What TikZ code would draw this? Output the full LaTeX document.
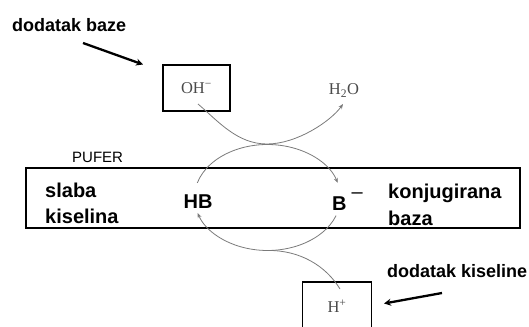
\documentclass[tikz,border=0pt]{standalone}
\usepackage{fontspec}
\setmainfont{Liberation Sans}
\newfontfamily\chemfont{Liberation Serif}
\usetikzlibrary{arrows.meta}
\definecolor{arcgray}{HTML}{7A7A7A}
\definecolor{chemgray}{HTML}{4A4A4A}
\tikzset{
  lbl/.style={font=\fontsize{20}{24}\selectfont\bfseries, inner sep=0pt, anchor=base west},
  addlbl/.style={font=\fontsize{18}{22}\selectfont\bfseries, inner sep=0pt, anchor=base west},
  chemtext/.style={font=\chemfont\fontsize{16.5}{19}\selectfont, text=chemgray, inner sep=0pt},
  chembox/.style={chemtext, draw, line width=1.3pt},
  reaction/.style={draw=arcgray, line width=0.8pt},
  reacarrow/.style={reaction, -{Stealth[length=5pt,width=4pt]}},
  bigarrow/.style={line width=2.3pt, -{Stealth[length=7pt,width=7pt]}}
}
\begin{document}
\begin{tikzpicture}[x=1pt,y=-1pt]
\useasboundingbox (0,0) rectangle (529,326);
\clip (0,0) rectangle (529,326);
% buffer box
\node[draw, line width=1.4pt, minimum width=494pt, minimum height=60pt, inner sep=0pt] (pufer) at (273,198) {};
\node[font=\fontsize{15}{18}\selectfont, inner sep=0pt, anchor=base west] (puferlbl) at (72,162) {PUFER};
% labels inside
\node[lbl] (slaba) at (45,197) {slaba};
\node[lbl] (kiselina) at (45,223) {kiselina};
\node[lbl] (konj) at (388,198) {konjugirana};
\node[lbl] (baza) at (388,225) {baza};
\node[lbl, anchor=base] (hb) at (198,208) {HB};
\node[lbl] (bm) at (332,210) {B\hspace{5pt}\raisebox{12pt}{\mdseries –}};
% chemical boxes and texts
\node[chembox, minimum width=67pt, minimum height=46pt] (oh) at (196.5,88) {OH\textsuperscript{\char"2212}};
\node[chemtext, anchor=base] (h2o) at (344,95) {H\textsubscript{2}O};
\node[chembox, minimum width=69pt, minimum height=48pt] (hp) at (337,306) {H\textsuperscript{+}};
% addition labels
\node[addlbl] (baze) at (12,32) {dodatak baze};
\node[addlbl] (kis) at (387,277) {dodatak kiseline};
% coordinates
\coordinate (ohS) at (198,104);
\coordinate (ctop) at (267,144);
\coordinate (h2oE) at (343,104);
\coordinate (hbT) at (197.3,182.9);
\coordinate (hpS) at (340,289);
\coordinate (cbot) at (267.5,250.5);
\coordinate (bB) at (336.1,215.6);
\coordinate (a1) at (83,43);
\coordinate (a2) at (143,64.5);
\coordinate (k1) at (442,293);
\coordinate (k2) at (384,303.5);
% reaction arcs
\draw[reacarrow] (ohS) .. controls (218,121) and (237,144) .. (ctop) .. controls (297,144) and (331,121) .. (h2oE);
\draw[reacarrow] (hbT) arc[start angle=196, end angle=344, x radius=73, y radius=53];
\draw[reacarrow] (bB) arc[start angle=20, end angle=163, x radius=73, y radius=53];
\draw[reaction] (hpS) .. controls (326,266) and (300,250) .. (cbot);
% addition arrows
\draw[bigarrow] (a1) -- (a2);
\draw[bigarrow] (k1) -- (k2);
\end{tikzpicture}
\end{document}
